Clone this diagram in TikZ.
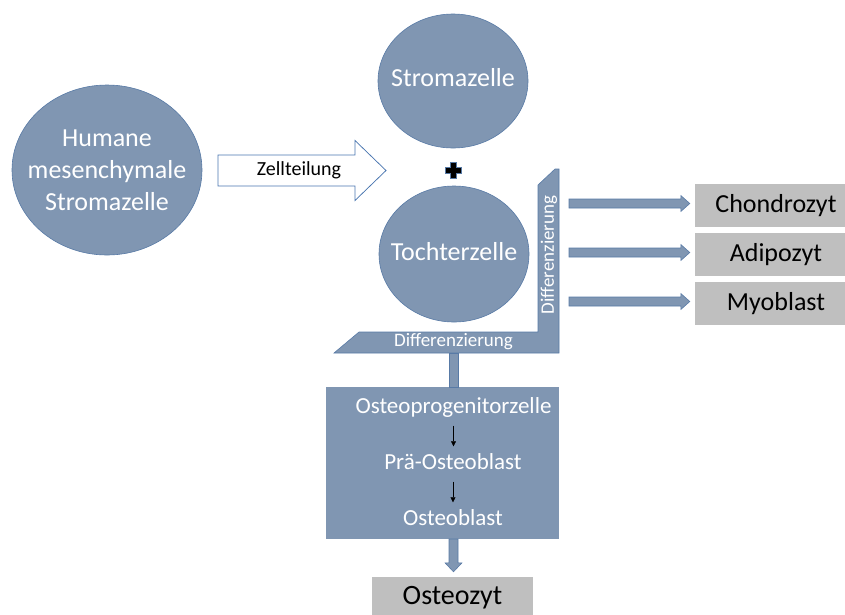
\documentclass[tikz,border=0pt]{standalone}
\usepackage{fontspec}
\setmainfont{Carlito}
\usetikzlibrary{shapes.geometric, arrows.meta, calc}

\definecolor{cellfill}{RGB}{128,150,178}
\definecolor{cellline}{RGB}{88,122,166}
\definecolor{zellline}{RGB}{74,118,176}
\definecolor{boxgray}{RGB}{191,191,191}

\tikzset{
  cell/.style={ellipse, fill=cellfill, draw=cellline, line width=0.6pt, inner sep=0pt},
  celltext/.style={text=white, align=center, font=\fontsize{26}{32}\selectfont},
  endbox/.style={rectangle, fill=boxgray, minimum width=150pt, minimum height=43pt,
    inner sep=0pt, font=\fontsize{26}{32}\selectfont},
  stage/.style={text=white, font=\fontsize{23}{27}\selectfont, inner sep=0pt,
    text height=16pt, text depth=5pt},
  difftext/.style={text=white, font=\fontsize{19}{22}\selectfont, inner sep=0pt},
  stagearr/.style={line width=0.6pt, -{Triangle[length=5pt, width=5pt]},
    shorten <=7pt, shorten >=7pt},
  blockarr/.style={fill=cellfill, draw=cellline, line width=0.6pt},
  % block arrow to the right: shaft half width, head half width, head length
  harrow/.style n args={3}{to path={let \p1=(\tikztostart), \p2=(\tikztotarget) in
    (\x1,\y1+#1) -- (\x2-#3,\y1+#1) -- (\x2-#3,\y1+#2) -- (\x2,\y1)
    -- (\x2-#3,\y1-#2) -- (\x2-#3,\y1-#1) -- (\x1,\y1-#1) -- cycle}},
  % block arrow downwards
  varrow/.style n args={3}{to path={let \p1=(\tikztostart), \p2=(\tikztotarget) in
    (\x1-#1,\y1) -- (\x1-#1,\y2+#3) -- (\x1-#2,\y2+#3) -- (\x1,\y2)
    -- (\x1+#2,\y2+#3) -- (\x1+#1,\y2+#3) -- (\x1+#1,\y1) -- cycle}},
}

\begin{document}
\begin{tikzpicture}[x=1pt, y=-1pt]
  \useasboundingbox (0,0) rectangle (845,614);

  % ---- cells ----
  \node[cell, minimum width=190pt, minimum height=170pt] (hmsc) at (107,170) {};
  \node[celltext] (hmsctext) at (hmsc) {Humane\\mesenchymale\\Stromazelle};
  \node[cell, minimum width=150pt, minimum height=134pt] (stroma) at (453,81) {};
  \node[celltext] (stromatext) at (453,78) {Stromazelle};
  \node[cell, minimum width=150pt, minimum height=136pt] (tochter) at (454,254) {};
  \node[celltext] (tochtertext) at (454,252) {Tochterzelle};

  % ---- cell division ----
  \coordinate (zA) at (218,170.5);
  \coordinate (zB) at (386,170.5);
  \draw[fill=white, draw=zellline, line width=0.75pt]
    (zA) to[harrow={15.5pt}{30pt}{31pt}] (zB);
  \node[font=\fontsize{20}{24}\selectfont] (zell) at (299,170) {Zellteilung};

  % plus sign between the two cells
  \filldraw[fill=black, draw=cellline, line width=0.5pt]
    (450,162) -- (456,162) -- (456,167) -- (461,167) -- (461,173) -- (456,173)
    -- (456,178) -- (450,178) -- (450,173) -- (445,173) -- (445,167) -- (450,167) -- cycle;

  % ---- differentiation bar (L shape) ----
  \filldraw[blockarr] (334,353) -- (559,353) -- (559,169) -- (555,169) -- (538,185)
    -- (538,332) -- (359,332) -- cycle;
  \node[difftext] (diffH) at (453.5,342) {Differenzierung};
  \node[difftext, rotate=90] (diffV) at (549,255) {Differenzierung};

  % ---- end products on the right ----
  \node[endbox] (chondro) at (770,205.5) {\hspace{12pt}Chondrozyt};
  \node[endbox] (adipo) at (770,254.5) {\hspace{12pt}Adipozyt};
  \node[endbox] (myo) at (770,303.5) {\hspace{12pt}Myoblast};

  \coordinate (barR) at (569,0);
  \foreach \n in {chondro, adipo, myo}
    \draw[blockarr] ($(barR |- \n.west)+(0,-2)$) to[harrow={4.5pt}{8pt}{9pt}]
      ($(\n.west)+(-5,-2)$);

  % ---- osteogenic line ----
  \node[rectangle, fill=cellfill, minimum width=233pt, minimum height=152pt,
    inner sep=0pt] (osteobox) at (442.5,463) {};
  \coordinate (lbot) at (453.5,353);
  \draw[blockarr] (lbot) to[varrow={4.5pt}{4.5pt}{0pt}] (lbot |- osteobox.north);

  \node[stage] (op) at (453.5,408) {Osteoprogenitorzelle};
  \node[stage] (prae) at (453,464) {Prä-Osteoblast};
  \node[stage] (ob) at (453,520) {Osteoblast};
  \draw[stagearr] (op.south) -- (op.south |- prae.north);
  \draw[stagearr] (prae.south) -- (prae.south |- ob.north);

  \node[endbox, minimum width=161pt, minimum height=42pt,
    font=\fontsize{28}{32}\selectfont] (osteozyt) at (452.5,598) {Osteozyt};
  \coordinate (obot) at (453.5,539);
  \draw[blockarr] (obot) to[varrow={4.5pt}{8.5pt}{9pt}] ($(obot |- osteozyt.north)+(0,-5)$);

\end{tikzpicture}
\end{document}
